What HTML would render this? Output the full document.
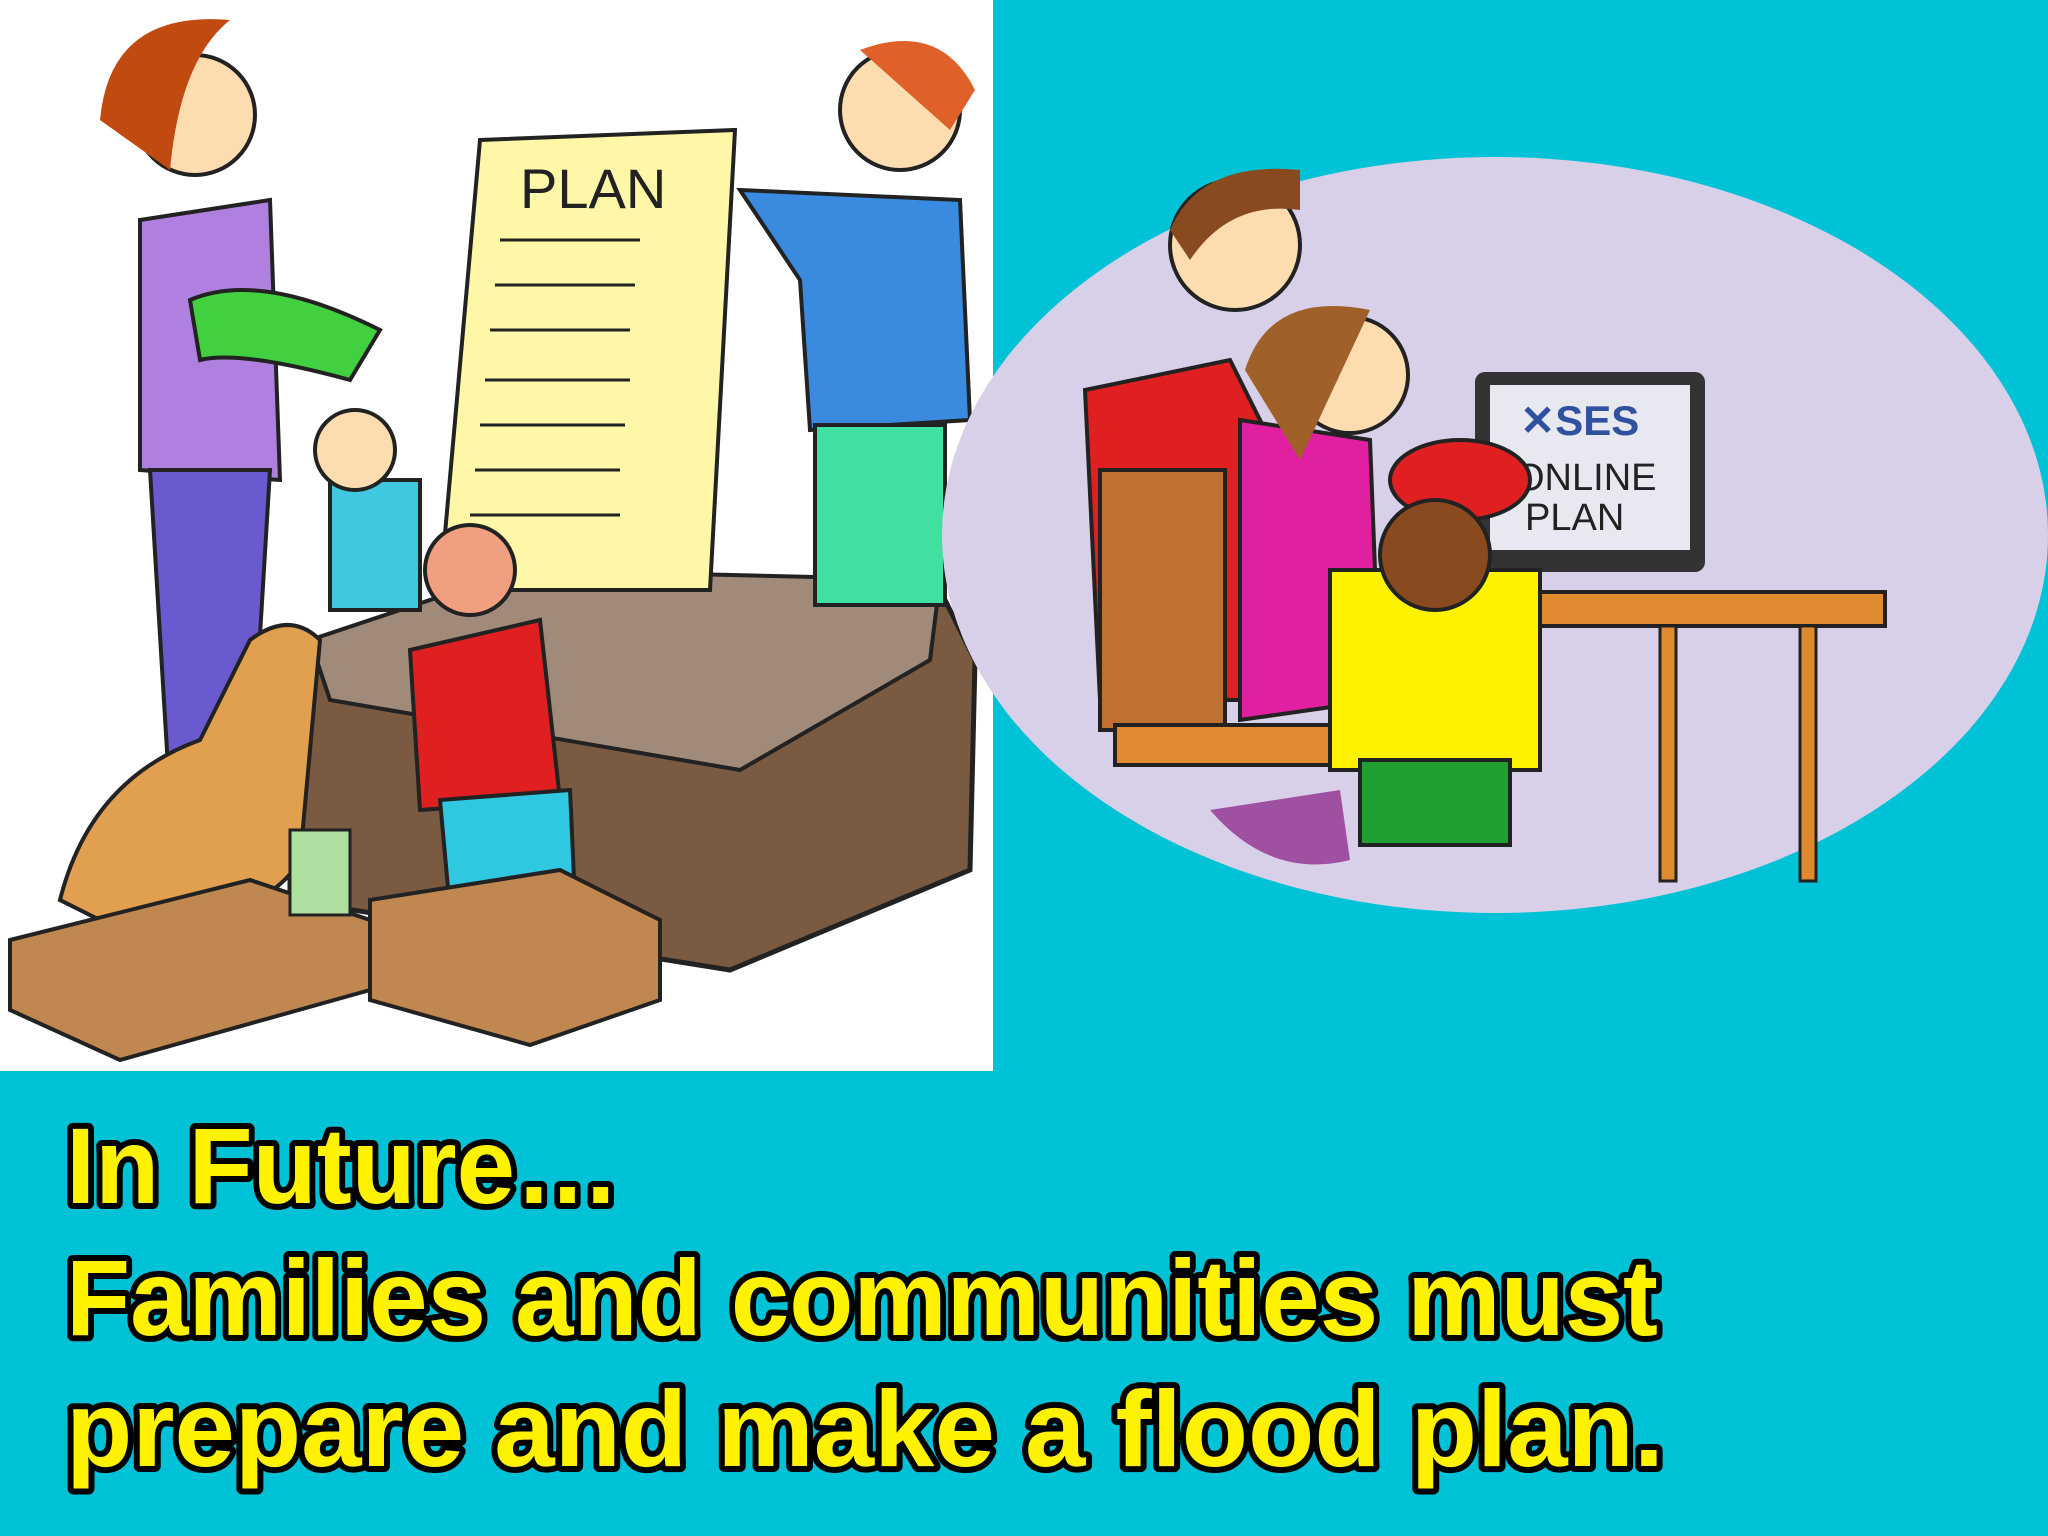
<!DOCTYPE html>
<html><head><meta charset="utf-8"><style>
html,body{margin:0;padding:0;}
body{width:2048px;height:1536px;background:#00c2d6;position:relative;overflow:hidden;font-family:"Liberation Sans",sans-serif;}
svg{position:absolute;left:0;top:0;}
</style></head><body>
<svg width="2048" height="1536" viewBox="0 0 2048 1536">
  <rect x="0" y="0" width="2048" height="1536" fill="#00c2d6"/>
  <!-- left white panel -->
  <g>
    <rect x="0" y="0" width="993" height="1071" fill="#ffffff"/>
    <path d="M290 650 L930 570 L975 660 L970 870 L730 970 L290 900 Z" fill="#7a5a40" stroke="#222" stroke-width="5"/>
    <path d="M310 640 L520 570 L940 580 L930 660 L740 770 L330 700 Z" fill="#a08a7a" stroke="#222" stroke-width="4"/>
    <path d="M480 140 L735 130 L710 590 L440 590 Z" fill="#fff7a8" stroke="#222" stroke-width="4"/>
    <text x="520" y="208" font-size="56" fill="#222" font-family="Liberation Sans, sans-serif">PLAN</text>
    <g stroke="#222" stroke-width="3" fill="none">
      <path d="M500 240 h140"/><path d="M495 285 h140"/><path d="M490 330 h140"/><path d="M485 380 h145"/><path d="M480 425 h145"/><path d="M475 470 h145"/><path d="M470 515 h150"/>
    </g>
    <path d="M140 220 L270 200 L280 480 L140 470 Z" fill="#b080e0" stroke="#222" stroke-width="4"/>
    <path d="M150 470 L270 470 L250 800 L170 800 Z" fill="#6a5ad0" stroke="#222" stroke-width="4"/>
    <circle cx="195" cy="115" r="60" fill="#fddcb0" stroke="#222" stroke-width="4"/>
    <path d="M100 120 Q110 10 230 20 Q180 60 170 170 Z" fill="#c04a10"/>
    <path d="M190 300 Q260 270 380 330 L350 380 Q240 350 200 360 Z" fill="#40d040" stroke="#222" stroke-width="4"/>
    <path d="M740 190 L960 200 L970 420 L810 430 L800 280 Z" fill="#3a8ae0" stroke="#222" stroke-width="4"/>
    <rect x="815" y="425" width="130" height="180" fill="#40e0a0" stroke="#222" stroke-width="4"/>
    <circle cx="900" cy="110" r="60" fill="#fddcb0" stroke="#222" stroke-width="4"/>
    <path d="M860 50 Q940 20 975 90 L950 130 Z" fill="#e0602a"/>
    <rect x="330" y="480" width="90" height="130" fill="#40c8e0" stroke="#222" stroke-width="4"/>
    <circle cx="355" cy="450" r="40" fill="#fddcb0" stroke="#222" stroke-width="4"/>
    <path d="M410 650 L540 620 L560 800 L420 810 Z" fill="#e02020" stroke="#222" stroke-width="4"/>
    <path d="M440 800 L570 790 L575 900 L450 910 Z" fill="#30c8e0" stroke="#222" stroke-width="4"/>
    <circle cx="470" cy="570" r="45" fill="#f0a080" stroke="#222" stroke-width="4"/>
    <path d="M60 900 Q90 780 200 740 L250 640 Q290 610 320 640 L300 860 Q260 930 100 920 Z" fill="#e0a050" stroke="#222" stroke-width="4"/>
    <path d="M10 940 L250 880 L370 920 L370 990 L120 1060 L10 1010 Z" fill="#c08850" stroke="#222" stroke-width="4"/>
    <path d="M370 900 L560 870 L660 920 L660 1000 L530 1045 L370 1000 Z" fill="#c08850" stroke="#222" stroke-width="4"/>
    <rect x="290" y="830" width="60" height="85" fill="#b0e0a0" stroke="#222" stroke-width="3"/>
  </g>
  <!-- right ellipse scene -->
  <g>
    <ellipse cx="1495" cy="535" rx="553" ry="378" fill="#d8d0e8"/>
    <rect x="1475" y="372" width="230" height="200" rx="10" fill="#333"/>
    <rect x="1490" y="385" width="200" height="165" fill="#e8e8f0"/>
    <text x="1520" y="435" font-size="42" font-weight="bold" fill="#3050a0" font-family="Liberation Sans, sans-serif">✕SES</text>
    <text x="1515" y="490" font-size="38" fill="#222" font-family="Liberation Sans, sans-serif">ONLINE</text>
    <text x="1525" y="530" font-size="38" fill="#222" font-family="Liberation Sans, sans-serif">PLAN</text>
    <rect x="1540" y="592" width="345" height="34" fill="#e08a30" stroke="#222" stroke-width="4"/>
    <rect x="1660" y="626" width="16" height="255" fill="#e08a30" stroke="#222" stroke-width="3"/>
    <rect x="1800" y="626" width="16" height="255" fill="#e08a30" stroke="#222" stroke-width="3"/>
    <path d="M1085 390 L1230 360 L1290 480 L1260 700 L1100 700 Z" fill="#e02020" stroke="#222" stroke-width="4"/>
    <circle cx="1235" cy="245" r="65" fill="#fddcb0" stroke="#222" stroke-width="4"/>
    <path d="M1170 230 Q1200 160 1300 170 L1300 210 Q1230 200 1190 260 Z" fill="#8a4a20"/>
    <rect x="1100" y="470" width="125" height="260" fill="#c07030" stroke="#222" stroke-width="4"/>
    <rect x="1115" y="725" width="240" height="40" fill="#e08a30" stroke="#222" stroke-width="4"/>
    <path d="M1240 420 L1370 440 L1380 700 L1240 720 Z" fill="#e020a0" stroke="#222" stroke-width="4"/>
    <circle cx="1350" cy="375" r="58" fill="#fddcb0" stroke="#222" stroke-width="4"/>
    <path d="M1245 370 Q1270 290 1370 310 L1300 460 Z" fill="#a0602a"/>
    <rect x="1330" y="570" width="210" height="200" fill="#fff200" stroke="#222" stroke-width="4"/>
    <rect x="1360" y="760" width="150" height="85" fill="#20a030" stroke="#222" stroke-width="4"/>
    <ellipse cx="1460" cy="480" rx="70" ry="40" fill="#e02020" stroke="#222" stroke-width="4"/>
    <circle cx="1435" cy="555" r="55" fill="#8a4a20" stroke="#222" stroke-width="4"/>
    <path d="M1210 810 Q1270 880 1350 860 L1340 790 Z" fill="#a050a0"/>
  </g>
  <!-- caption -->
  <g font-family="'Liberation Sans', sans-serif" font-weight="bold" font-size="108" fill="#fff200" stroke="#000" stroke-width="12" stroke-linejoin="round" paint-order="stroke">
    <text x="66" y="1203" textLength="554" lengthAdjust="spacingAndGlyphs">In Future…</text>
    <text x="66" y="1335" textLength="1592" lengthAdjust="spacingAndGlyphs">Families and communities must</text>
    <text x="66" y="1466" textLength="1598" lengthAdjust="spacingAndGlyphs">prepare and make a flood plan.</text>
  </g>
</svg>
</body></html>
